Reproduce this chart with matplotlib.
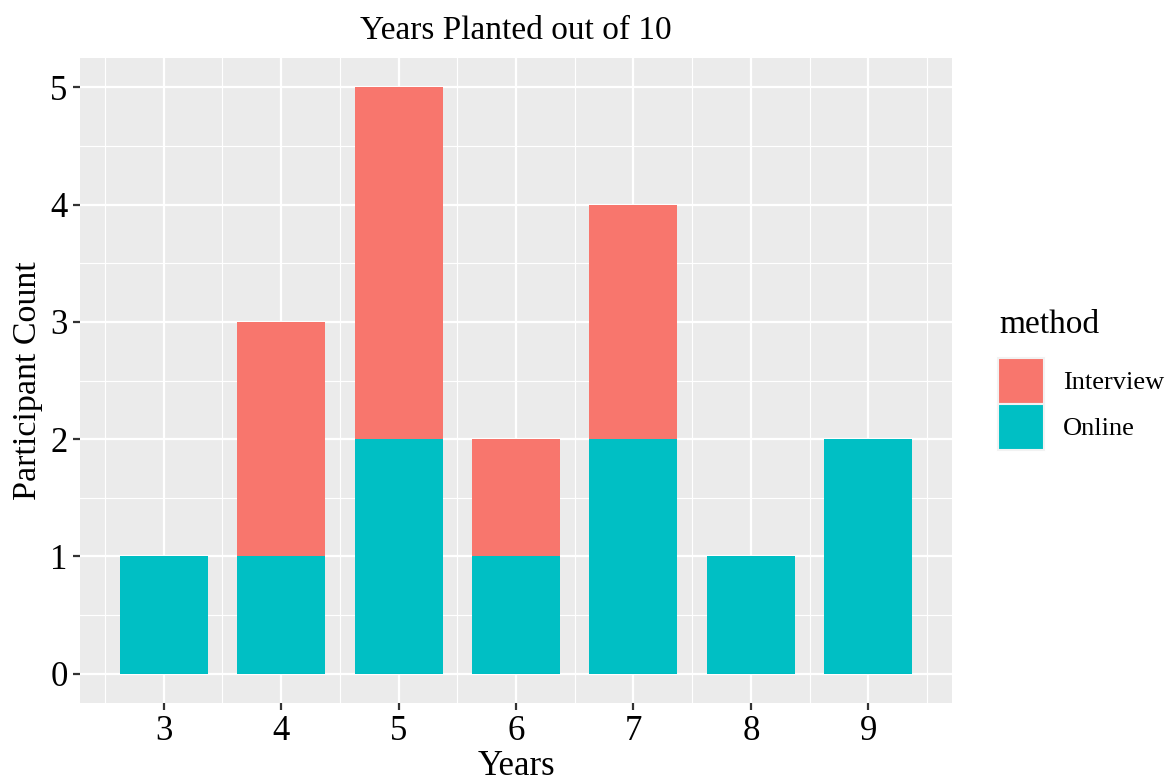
import numpy as np
import matplotlib
matplotlib.use('Agg')
import matplotlib.pyplot as plt
from matplotlib.patches import Patch

# data: participant counts by years planted, split by survey method
years = [3, 4, 5, 6, 7, 8, 9]
online = [1, 1, 2, 1, 2, 1, 2]
interview = [0, 2, 3, 1, 2, 0, 0]
methods = ['Interview', 'Online']
colors = {'Interview': '#F8766D', 'Online': '#00BFC4'}

plt.rcParams['font.family'] = ['Liberation Serif', 'DejaVu Serif']

W, H = 1172, 781
fig = plt.figure(figsize=(W / 100, H / 100), dpi=100)
ax = fig.add_axes([80 / W, 1 - 703 / H, (952 - 80) / W, (703 - 58) / H])
ax.set_facecolor('#EBEBEB')

x = np.array(years)
ax.bar(x, online, width=0.75, color=colors['Online'], zorder=3)
ax.bar(x, interview, width=0.75, bottom=online, color=colors['Interview'], zorder=3)

ax.set_xlim(2.2875, 9.7125)
ax.set_ylim(-0.25, 5.25)
ax.set_xticks(years)
ax.set_yticks(range(0, 6))
ax.set_xticks(np.arange(2.5, 10, 1), minor=True)
ax.set_yticks(np.arange(0.5, 5.5, 1), minor=True)
ax.grid(which='major', color='white', linewidth=1.6, zorder=1)
ax.grid(which='minor', color='white', linewidth=0.8, zorder=1)
ax.set_axisbelow(True)
for s in ax.spines.values():
    s.set_visible(False)
ax.tick_params(which='major', length=5, width=1.6, color='#333333',
               labelsize=25, labelcolor='black', pad=4)
ax.tick_params(which='minor', length=0)

ax.set_xlabel('Years', fontsize=25, labelpad=1)
ax.set_ylabel('Participant Count', fontsize=24.5, labelpad=5)
ax.set_title('Years Planted out of 10', fontsize=24, pad=14)

# legend (title placed separately to get ggplot-like spacing)
fig.text(999 / W, 1 - 325 / H, 'method', fontsize=24, va='center', ha='left')
handles = [Patch(facecolor=colors[m], edgecolor='#F2F2F2', linewidth=1.5) for m in methods]
leg = fig.legend(handles, methods, loc='upper left', bbox_to_anchor=(998 / W, 1 - 358 / H),
                 fontsize=19, frameon=False,
                 handlelength=1.75, handleheight=2.3, handletextpad=0.7, labelspacing=0.0,
                 borderaxespad=0, borderpad=0)

fig.savefig('out.png', dpi=100)
